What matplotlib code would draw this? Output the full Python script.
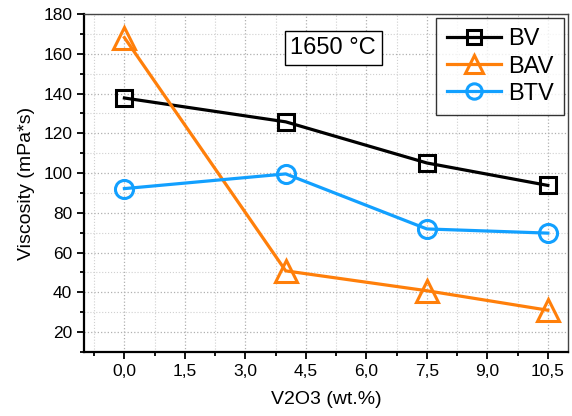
import matplotlib.pyplot as plt
from matplotlib.ticker import MultipleLocator, FuncFormatter

plt.rcParams['font.family'] = ['Liberation Sans', 'DejaVu Sans']

# data
x = [0, 4, 7.5, 10.5]
bv = [137.8, 125.8, 105.1, 93.8]
bav = [168.2, 50.8, 40.8, 31.0]
btv = [92.2, 99.6, 71.9, 69.8]

fig = plt.figure(figsize=(5.72, 4.16), dpi=100)
ax = fig.add_axes([0.147, 0.154, 0.846, 0.812])

ax.plot(x, bv, color='black', lw=2.3, marker='s', ms=12, mew=2.2,
        fillstyle='none', label='BV', zorder=3)
ax.plot(x, bav, color='#ff7f0a', lw=2.3, marker='^', ms=16, mew=2.2,
        fillstyle='none', label='BAV', zorder=3)
ax.plot(x, btv, color='#12a0ff', lw=2.3, marker='o', ms=13, mew=2.2,
        fillstyle='none', label='BTV', zorder=3)

ax.set_xlim(-1, 11)
ax.set_ylim(10, 180)
ax.xaxis.set_major_locator(MultipleLocator(1.5))
ax.xaxis.set_minor_locator(MultipleLocator(0.75))
ax.yaxis.set_major_locator(MultipleLocator(20))
ax.yaxis.set_minor_locator(MultipleLocator(10))
ax.xaxis.set_major_formatter(FuncFormatter(lambda v, p: f'{v:.1f}'.replace('.', ',')))
ax.set_yticks(range(20, 181, 20))

ax.grid(which='major', color='#b0b0b0', ls=':', lw=0.9)
ax.grid(which='minor', color='#d0d0d0', ls=':', lw=0.8)
ax.set_axisbelow(True)

ax.tick_params(which='both', direction='out', top=False, right=False,
               labelsize=12.5, width=1.3)
ax.tick_params(which='major', length=5)
ax.tick_params(which='minor', length=3)
for s in ['left', 'bottom']:
    ax.spines[s].set_linewidth(1.6)
for s in ['top', 'right']:
    ax.spines[s].set_color('#444444')
    ax.spines[s].set_linewidth(1.0)

ax.set_xlabel('V2O3 (wt.%)', fontsize=14, labelpad=9)
ax.set_ylabel('Viscosity (mPa*s)', fontsize=14, labelpad=6)

ax.text(0.515, 0.9, '1650 °C', transform=ax.transAxes, fontsize=17,
        ha='center', va='center',
        bbox=dict(boxstyle='square,pad=0.25', fc='white', ec='black', lw=1))

leg = ax.legend(loc='upper right', fontsize=17, frameon=True, fancybox=False,
                edgecolor='black', handlelength=2.3, handletextpad=0.3,
                labelspacing=0.22, borderpad=0.45, borderaxespad=0.15,
                markerscale=0.85)
leg.get_frame().set_linewidth(1.0)

fig.savefig('out.png', dpi=100)
